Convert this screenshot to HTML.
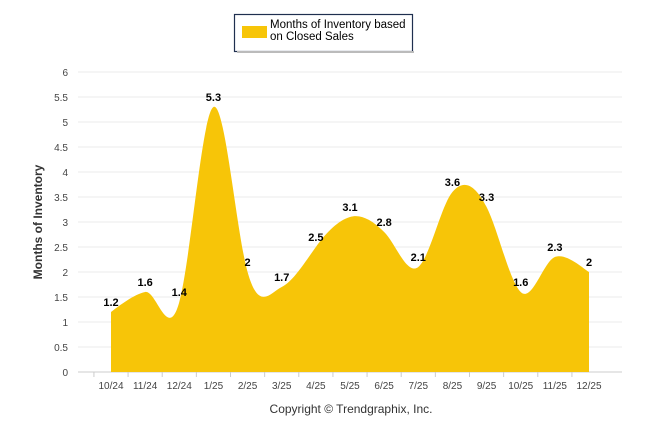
<!DOCTYPE html>
<html><head><meta charset="utf-8"><style>
body{margin:0;background:#fff;font-family:"Liberation Sans",Arial,sans-serif}
svg text{font-family:"Liberation Sans",Arial,sans-serif}
</style></head><body>
<svg id="c" width="646" height="434">
<g>
<rect x="234.5" y="14.5" width="178" height="37" fill="#fff" stroke="#1f2f4f" stroke-width="1.2"/>
<rect x="237" y="51" width="177" height="2" fill="#bbb"/>
<rect x="242" y="26" width="25" height="12" fill="#f7c508"/>
<text x="270" y="28" font-size="11.5" fill="#000">Months of Inventory based</text>
<text x="270" y="40" font-size="11.5" fill="#000">on Closed Sales</text>
</g>
<text transform="translate(42,222) rotate(-90)" text-anchor="middle" font-size="12" font-weight="bold" fill="#333">Months of Inventory</text>
<text x="351" y="413" text-anchor="middle" font-size="12" fill="#333">Copyright © Trendgraphix, Inc.</text>
<g id="grid"></g><g id="area"></g><g id="labels"></g>
</svg>
<script>
const categories=["10/24","11/24","12/24","1/25","2/25","3/25","4/25","5/25","6/25","7/25","8/25","9/25","10/25","11/25","12/25"];
const values=[1.2,1.6,1.4,5.3,2,1.7,2.5,3.1,2.8,2.1,3.6,3.3,1.6,2.3,2];
const yTicks=[0,0.5,1,1.5,2,2.5,3,3.5,4,4.5,5,5.5,6];
const NS="http://www.w3.org/2000/svg";
const x0=111,x1=589,yb=372,yt=72,gl=78,gr=622;
const X=i=>x0+(x1-x0)*i/(categories.length-1);
const Y=v=>yb-(yb-yt)*v/6;
function mk(t,a,p){const e=document.createElementNS(NS,t);for(const k in a)e.setAttribute(k,a[k]);p.appendChild(e);return e;}
const grid=document.getElementById('grid');
yTicks.forEach(t=>{
 const l=mk('line',{x1:gl,x2:gr,y1:Y(t),y2:Y(t),stroke:t===0?'#ccc':'#ebebeb'},grid);
 
 
 const tx=mk('text',{x:68,y:Y(t)+4,'text-anchor':'end','font-size':10,fill:'#444'},grid);
 tx.textContent=t;
 
 
});
const step=(x1-x0)/(categories.length-1);
categories.forEach((c,i)=>{
 const tk=mk('line',{x1:X(i)-step/2,x2:X(i)-step/2,y1:yb,y2:yb+5,stroke:'#ccc'},grid);
 
 
 const tx=mk('text',{x:X(i),y:389,'text-anchor':'middle','font-size':10,fill:'#444'},grid);
 tx.textContent=c;
 
 
});
const k=1.35;
const P=values.map((v,i)=>[X(i),Y(v)]);
let d=`M${P[0][0]},${yb}L${P[0][0]},${P[0][1]}`;
for(let i=0;i<P.length-1;i++){
 const p0=P[Math.max(0,i-1)],p1=P[i],p2=P[i+1],p3=P[Math.min(P.length-1,i+2)];
 const c1=[p1[0]+(p2[0]-p0[0])/6,p1[1]+k*(p2[1]-p0[1])/6];
 const c2=[p2[0]-(p3[0]-p1[0])/6,p2[1]-k*(p3[1]-p1[1])/6];
 d+=`C${c1[0]},${c1[1]} ${c2[0]},${c2[1]} ${p2[0]},${p2[1]}`;
}
d+=`L${P[P.length-1][0]},${yb}Z`;
const ar=mk('path',{d:d,fill:'#f7c508'},document.getElementById('area'));


const lb=document.getElementById('labels');
values.forEach((v,i)=>{
 const t=mk('text',{x:X(i),y:Y(v)-6,'text-anchor':'middle','font-size':11,'font-weight':'bold',fill:'#000'},lb);
 t.textContent=v;
 
 
});
</script>
</body></html>
